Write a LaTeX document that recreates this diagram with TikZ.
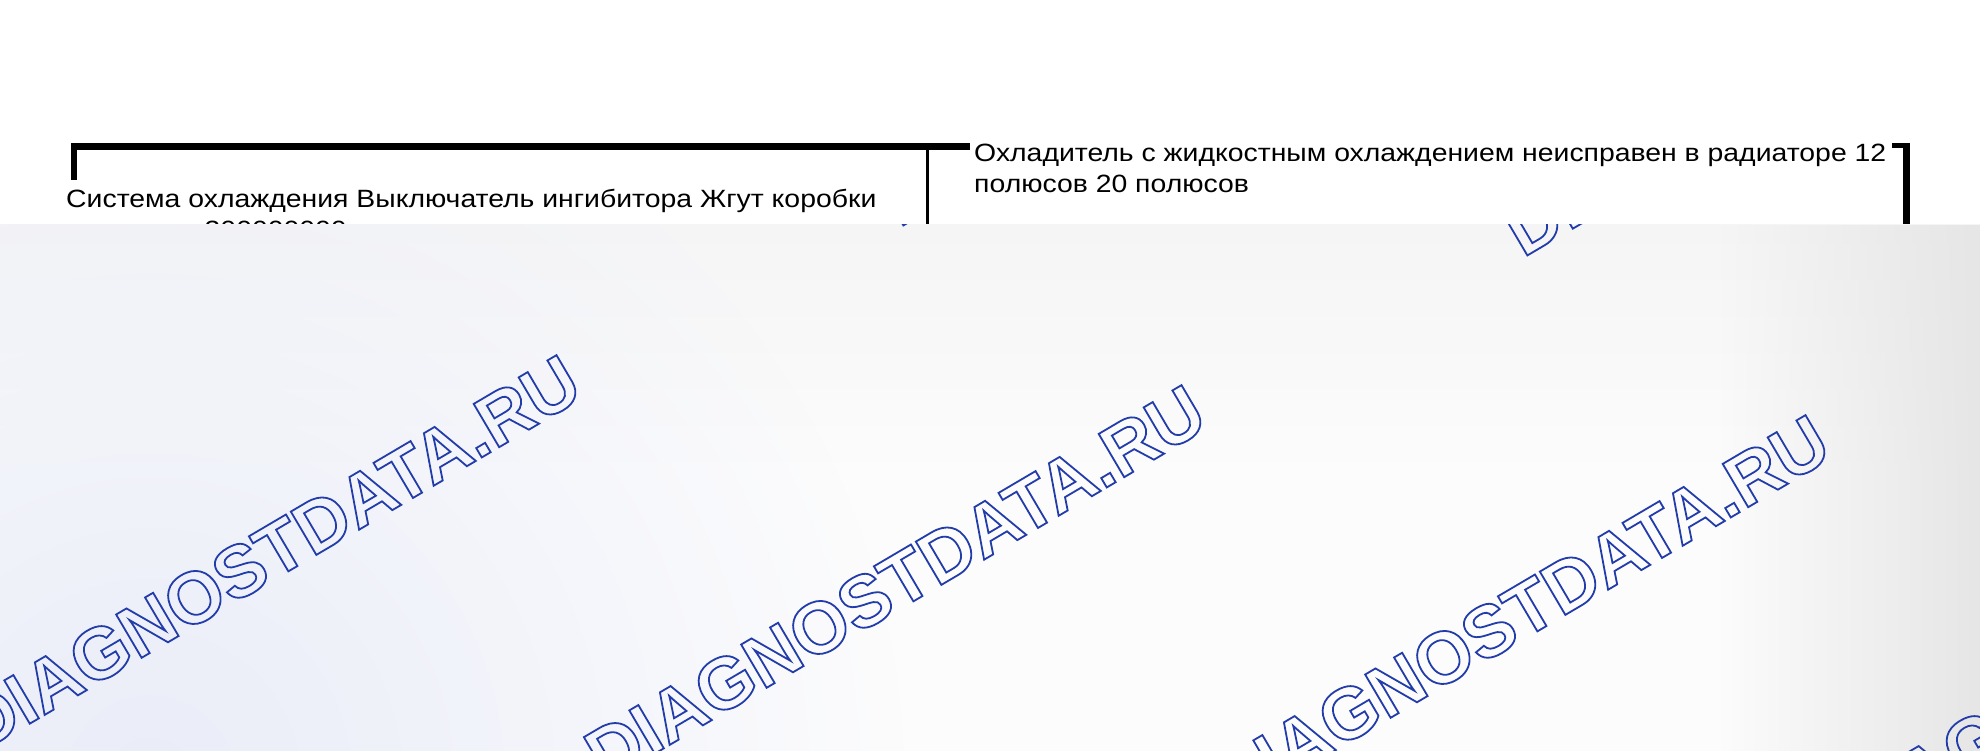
\documentclass[tikz,border=0pt]{standalone}
\usepackage{fontspec}
\setmainfont{Liberation Sans}
\usetikzlibrary{positioning, fadings}
\definecolor{wmblue}{RGB}{34,60,170}
\definecolor{bgbase}{RGB}{252,252,253}
\definecolor{bgblue}{RGB}{234,237,248}
\definecolor{bggray}{RGB}{230,230,231}
\definecolor{bgtop}{RGB}{245,245,246}
\newcommand{\outlined}[1]{\special{pdf:literal direct 1 Tr 1.8 w}#1\special{pdf:literal direct 0 Tr}}
\tikzfading[name=softspot, inner color=transparent!0, outer color=transparent!100]
\tikzfading[name=rightedge, left color=transparent!100, right color=transparent!0]
\tikzset{
  label/.style={inner sep=0pt, anchor=base west, xscale=1.135, text=black, font=\fontsize{25}{31}\selectfont},
  watermark/.style={inner sep=0pt, anchor=base west, rotate=30.5, text=wmblue, font=\fontsize{73}{73}\selectfont\bfseries},
  bracket/.style={draw=black, line width=6.5pt}
}

\begin{document}
\begin{tikzpicture}[x=1pt, y=-1pt]
  \useasboundingbox (0,0) rectangle (1980,751);
  \fill[white] (0,0) rectangle (1980,751);

  % Frame
  \coordinate (leftfoot) at (74,180);
  \coordinate (leftcorner) at (74,146.5);
  \coordinate (topend) at (970,146.5);
  \coordinate (rightstub) at (1892,145.5);
  \coordinate (rightcorner) at (1906.5,145.5);
  \coordinate (rightfoot) at (1906.5,225);
  \coordinate (splittop) at (927,150);
  \coordinate (splitfoot) at (927,225);
  \draw[bracket] (leftfoot) -- (leftcorner) -- (topend);
  \draw[bracket, line width=5pt] (rightstub) -- (rightcorner);
  \draw[bracket, line width=7pt] ([yshift=2.5pt]rightcorner) -- (rightfoot);
  \draw[bracket, line width=3pt] (splittop) -- (splitfoot);

  % Texts
  \node[label] (coolsys) at (66,208) {Система охлаждения Выключатель ингибитора Жгут коробки};
  \node[label, below=31pt of coolsys.base west, anchor=base west, xshift=122pt] (partno) {300000000};
  \node[label] (cooler) at (974,162) {Охладитель с жидкостным охлаждением неисправен в радиаторе 12};
  \node[label, below=31pt of cooler.base west, anchor=base west] (poles) {полюсов 20 полюсов};

  % Background with watermarks
  \begin{scope}
    \clip (0,225) rectangle (1980,751);
    \shade[top color=bgtop, bottom color=bgbase] (0,225) rectangle (1980,480);
    \fill[bgbase] (0,480) rectangle (1980,751);
    \fill[bgblue, path fading=softspot] (150,780) circle (760);
    \fill[bggray, path fading=rightedge] (1720,225) rectangle (1980,751);
    \node[watermark] (wmleft) at (-20,753) {\outlined{DIAGNOSTDATA.RU}};
    \node[watermark] (wmmid) at (605,783) {\outlined{DIAGNOSTDATA.RU}};
    \node[watermark] (wmright) at (1229,813) {\outlined{DIAGNOSTDATA.RU}};
    \node[watermark] (wmedge) at (1853,843) {\outlined{DIAGNOSTDATA.RU}};
    \node[watermark] (wmtopmid) at (899,228) {\outlined{DIAGNOSTDATA.RU}};
    \node[watermark] (wmtopright) at (1523,258) {\outlined{DIAGNOSTDATA.RU}};
  \end{scope}
\end{tikzpicture}
\end{document}
